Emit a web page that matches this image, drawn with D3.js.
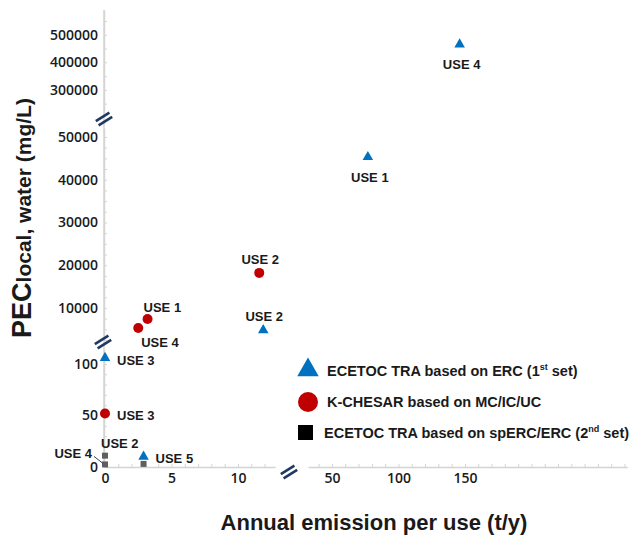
<!DOCTYPE html>
<html><head><meta charset="utf-8">
<script src="https://cdn.jsdelivr.net/npm/d3@7"></script>
<style>
html,body{margin:0;padding:0;background:#fff;}
svg text{font-family:"Liberation Sans",Arial,sans-serif;fill:#1a1a1a;}
.tick text{font-family:"Open Sans",sans-serif;font-weight:600;font-size:14px;}
</style></head>
<body>
<svg id="chart" width="637" height="536"></svg>
<script>
// ---- data ----
const seriesNames = ["ECETOC TRA based on ERC (1st set)", "K-CHESAR based on MC/IC/UC", "ECETOC TRA based on spERC/ERC (2nd set)"];
const triX = [146, 77, 11.9, 0, 2.9];
const triY = [465000, 45300, 4800, 106, 10];
const triLabels = ["USE 4", "USE 1", "USE 2", "USE 3", "USE 5"];
const cirX = [11.6, 3.2, 2.5, 0];
const cirY = [18200, 7400, 5300, 52];
const cirLabels = ["USE 2", "USE 1", "USE 4", "USE 3"];
const sqX = [0, 0, 2.9];
const sqY = [11, 2.5, 3];
const sqLabels = ["USE 2", "USE 4", ""];
const yTickTop = [300000, 400000, 500000];
const yTickMid = [10000, 20000, 30000, 40000, 50000];
const yTickLow = [0, 50, 100];
const xTickLeft = [0, 5, 10];
const xTickRight = [50, 100, 150];
const xTitle = "Annual emission per use (t/y)";
const yTitleMain = "PEC", yTitleSub = "local, water (mg/L)";

// label placement (annotation layout)
const triPlace = ["below", "below", "above", "right", "right"];
const cirPlace = ["above", "aboveRight", "belowRight", "right"];
const sqPlace = ["aboveRight", "leftLeader", "none"];

const svg = d3.select("#chart");
const blue = "#0070c0", red = "#c00000", gray = "#5f5f5f", axisCol = "#d4d4d4", breakCol = "#1f3864";

// ---- broken scales ----
const yTop = d3.scaleLinear().domain([216000, 590000]).range([113, 10]);
const yMid = d3.scaleLinear().domain([2500, 52100]).range([340, 128]);
const yLow = d3.scaleLinear().domain([0, 114]).range([467, 349.6]);
const xLeft = d3.scaleLinear().domain([0, 12.8]).range([105, 275.2]);
const xRight = d3.scaleLinear().domain([32, 272]).range([308, 627.2]);
const Y = v => v <= 114 ? yLow(v) : (v <= 52100 ? yMid(v) : yTop(v));
const X = v => v <= 12.8 ? xLeft(v) : xRight(v);

// ---- axes ----
const axX = 104;
function yAxis(scale, minor, labels) {
  const g = svg.append("g").attr("transform", `translate(${axX},0)`)
    .call(d3.axisLeft(scale).tickValues(minor).tickSizeInner(-3).tickSizeOuter(0).tickPadding(6)
      .tickFormat(d => labels.includes(d) ? String(d) : ""));
  g.select(".domain").attr("stroke", axisCol).attr("stroke-width", 1.5);
  g.selectAll(".tick line").attr("stroke", axisCol);
  return g;
}
yAxis(yTop, d3.range(250000, 560001, 50000), yTickTop);
yAxis(yMid, d3.range(2500, 52001, 2500), yTickMid);
yAxis(yLow, d3.range(0, 111, 10), yTickLow);
svg.append("line").attr("x1", axX).attr("x2", axX).attr("y1", 10).attr("y2", 467)
  .attr("stroke", axisCol).attr("stroke-width", 1.5);

function xAxis(scale, minor, labels) {
  const g = svg.append("g").attr("transform", `translate(0,467)`)
    .call(d3.axisBottom(scale).tickValues(minor).tickSizeInner(-3).tickSizeOuter(0).tickPadding(6)
      .tickFormat(d => labels.includes(d) ? String(d) : ""));
  g.select(".domain").attr("stroke", axisCol).attr("stroke-width", 1.5);
  g.selectAll(".tick line").attr("stroke", axisCol);
  return g;
}
xAxis(xLeft, d3.range(0, 13, 1), xTickLeft);
xAxis(xRight, d3.range(40, 271, 10), xTickRight);

// break marks
function brk(cx, cy) {
  const g = svg.append("g").attr("transform", `translate(${cx},${cy}) rotate(-32)`);
  [-2.6, 2.6].forEach(o => g.append("line").attr("x1", -8).attr("x2", 8).attr("y1", o).attr("y2", o)
    .attr("stroke", breakCol).attr("stroke-width", 2.6));
}
brk(104, 119);
brk(103, 342);
brk(289, 472);

// ---- titles ----
svg.append("text").attr("x", 374).attr("y", 530).attr("text-anchor", "middle")
  .attr("font-size", 22).attr("font-weight", "bold").text(xTitle);
const yt = svg.append("text").attr("transform", "translate(31,218) rotate(-90)")
  .attr("text-anchor", "middle").attr("font-weight", "bold");
yt.append("tspan").attr("font-size", 27).text(yTitleMain);
yt.append("tspan").attr("font-size", 21).text(yTitleSub);

// ---- marks ----
const triSym = d3.symbol().type(d3.symbolTriangle).size(48);
const triData = triX.map((x, i) => ({ x, y: triY[i], label: triLabels[i], place: triPlace[i] }));
const cirData = cirX.map((x, i) => ({ x, y: cirY[i], label: cirLabels[i], place: cirPlace[i] }));
const sqData = sqX.map((x, i) => ({ x, y: sqY[i], label: sqLabels[i], place: sqPlace[i] }));

svg.append("g").selectAll("rect").data(sqData).join("rect")
  .attr("x", d => X(d.x) - 3).attr("y", d => Y(d.y) - 3).attr("width", 6).attr("height", 6).attr("fill", gray);
svg.append("g").selectAll("path").data(triData).join("path")
  .attr("d", triSym).attr("transform", d => `translate(${X(d.x)},${Y(d.y)})`).attr("fill", blue);
svg.append("g").selectAll("circle").data(cirData).join("circle")
  .attr("cx", d => X(d.x)).attr("cy", d => Y(d.y)).attr("r", 5).attr("fill", red);

function place(d) {
  const px = X(d.x), py = Y(d.y);
  switch (d.place) {
    case "below": return { x: px + 2, y: py + 20, a: "middle" };
    case "above": return { x: px + 1, y: py - 14, a: "middle" };
    case "right": return { x: px + 12, y: py + 2, a: "start" };
    case "aboveRight": return { x: px - 4, y: py - 12, a: "start" };
    case "belowRight": return { x: px + 3, y: py + 14, a: "start" };
    case "leftLeader": return { x: px - 13, y: py - 11, a: "end" };
  }
  return null;
}
const allLabels = [...triData, ...cirData, ...sqData].filter(d => d.place !== "none");
svg.append("g").selectAll("text").data(allLabels).join("text")
  .each(function (d) {
    const p = place(d);
    d3.select(this).attr("x", p.x).attr("y", p.y).attr("dy", "0.36em").attr("text-anchor", p.a);
  })
  .attr("font-size", 13).attr("font-weight", "bold").text(d => d.label);
sqData.filter(d => d.place === "leftLeader").forEach(d => {
  svg.append("line").attr("x1", X(d.x) - 11).attr("y1", Y(d.y) - 8).attr("x2", X(d.x) - 2).attr("y2", Y(d.y) - 1)
    .attr("stroke", "#444").attr("stroke-width", 1);
});

// ---- legend ----
const lg = svg.append("g");
const legY = [371, 402, 433];
lg.append("path").attr("d", d3.symbol().type(d3.symbolTriangle).size(200)).attr("transform", `translate(308,${legY[0] - 1})`).attr("fill", blue);
lg.append("circle").attr("cx", 308).attr("cy", legY[1]).attr("r", 10).attr("fill", red);
lg.append("rect").attr("x", 298).attr("y", legY[2] - 8).attr("width", 15).attr("height", 15).attr("fill", "#000");
const legX = [327, 327, 324];
seriesNames.forEach((name, i) => {
  const t = lg.append("text").attr("x", legX[i]).attr("y", legY[i] + 5)
    .attr("font-size", 14.5).attr("font-weight", "bold");
  const m = name.match(/^(.*\()(\d)(st|nd)( set\))$/);
  if (m) {
    t.append("tspan").text(m[1] + m[2]);
    t.append("tspan").attr("font-size", 9).attr("dy", -6).text(m[3]);
    t.append("tspan").attr("dy", 6).text(m[4]);
  } else t.text(name);
});
</script>
</body></html>
